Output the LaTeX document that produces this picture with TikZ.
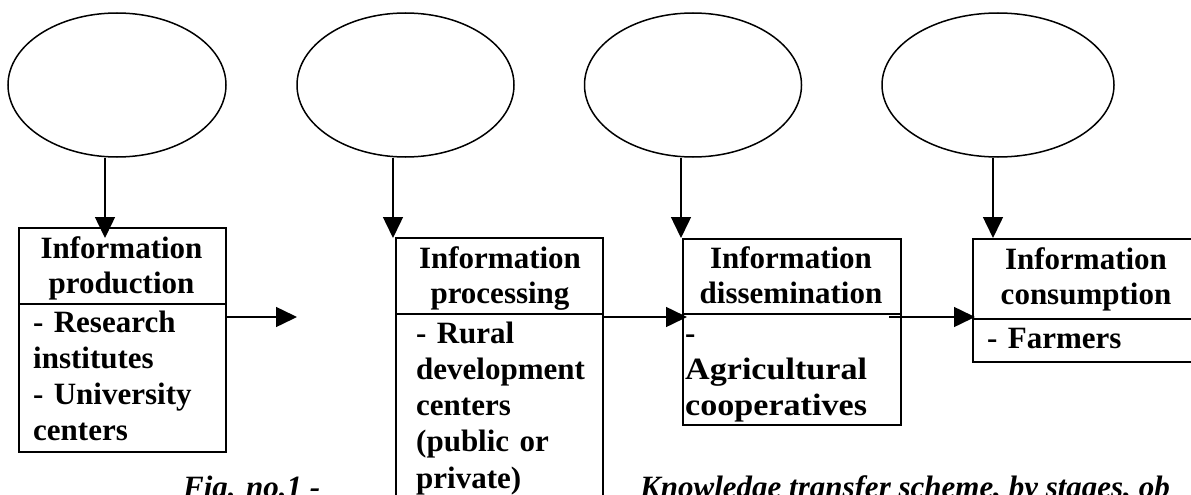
\documentclass[tikz,border=0pt]{standalone}
\usepackage{fontspec}
\usepackage{graphicx}
\setmainfont{Liberation Serif}
\usetikzlibrary{shapes.geometric,arrows.meta}
\begin{document}
\begin{tikzpicture}[x=1pt,y=-1pt,
  every node/.style={font=\fontsize{31}{35.5}\selectfont\bfseries},
  oval/.style={draw, ellipse, line width=1.5pt, minimum height=144pt, inner sep=0},
  box/.style={draw, line width=2pt, rectangle, inner sep=0, anchor=north west},
  arr/.style={line width=1.5pt, -{Triangle[length=21pt,width=20pt]}},
  hd/.style={anchor=base, text width=#1, align=center, inner sep=0},
  bd/.style={anchor=base west, text width=200pt, align=left, inner sep=0,
             font=\fontsize{31}{36.3}\selectfont\bfseries},
  captxt/.style={anchor=base west, inner sep=0, font=\fontsize{31}{36}\selectfont\bfseries\itshape},
]
\useasboundingbox (0,0) rectangle (1191,495);

% ellipses
\node[oval, minimum width=218pt] (e1) at (117,85) {};
\node[oval, minimum width=217pt] (e2) at (405.5,85) {};
\node[oval, minimum width=217pt] (e3) at (693,85) {};
\node[oval, minimum width=232pt] (e4) at (998,85) {};

% boxes
\node[box, minimum width=207pt, minimum height=76pt] (b1h) at (18,227) {};
\node[box, minimum width=207pt, minimum height=148pt] (b1b) at (18,303) {};
\node[box, minimum width=207pt, minimum height=76pt] (b2h) at (395,237) {};
\node[box, minimum width=207pt, minimum height=200pt] (b2b) at (395,313) {};
\node[box, minimum width=218pt, minimum height=75pt] (b3h) at (682,238) {};
\node[box, minimum width=218pt, minimum height=111pt] (b3b) at (682,313) {};
\node[box, minimum width=228pt, minimum height=80pt] (b4h) at (972,238) {};
\node[box, minimum width=228pt, minimum height=43pt] (b4b) at (972,318) {};

% texts
\node[hd=207pt] (t1h) at (121.5,258) {Information\\production};
\node[bd] (t1b) at (33,332) {- Research\\institutes\\- University\\centers};
\node[hd=207pt] (t2h) at (500,268) {Information\\processing};
\node[bd] (t2b) at (416,343) {- Rural\\development\\centers\\(public or\\private)};
\node[hd=218pt] (t3h) at (791,268) {Information\\dissemination};
\node[bd] (t3b) at (685,343) {-\\\scalebox{1.1}[1]{Agricultural}\\\scalebox{1.1}[1]{cooperatives}};
\node[hd=228pt] (t4h) at (1086,269) {Information\\consumption};
\node[bd] (t4b) at (987,348) {- Farmers};

% captions
\node[captxt] (c1) at (183,497) {Fig. no.1 -};
\node[captxt] (c2) at (640,497) {Knowledge transfer scheme, by stages, ob};

% arrow end points
\coordinate (v1) at (105,238);
\coordinate (v2) at (393,238);
\coordinate (v3) at (681,238);
\coordinate (v4) at (993,238);
\coordinate (h1) at (297,317);
\coordinate (h2) at (687,317);
\coordinate (h3s) at (889,317);
\coordinate (h3) at (975,317);

\draw[arr] (e1.south -| v1) -- (v1);
\draw[arr] (e2.south -| v2) -- (v2);
\draw[arr] (e3.south -| v3) -- (v3);
\draw[arr] (e4.south -| v4) -- (v4);
\draw[arr] (b1b.east |- h1) -- (h1);
\draw[arr] (b2b.east |- h2) -- (h2);
\draw[arr] (h3s) -- (h3);
\end{tikzpicture}
\end{document}
